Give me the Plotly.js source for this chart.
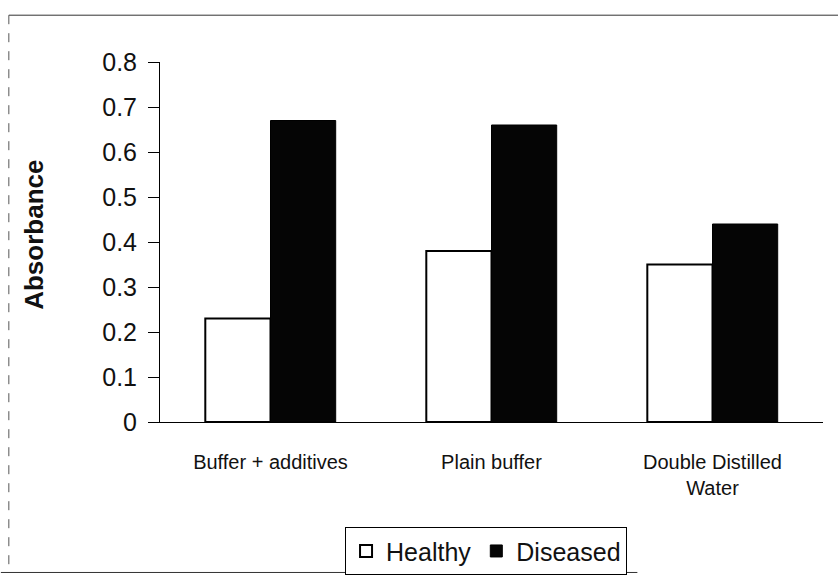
<!DOCTYPE html>
<html>
<head>
<meta charset="utf-8">
<script src="https://cdn.plot.ly/plotly-3.0.1.min.js"></script>
<style>html,body{margin:0;padding:0;background:#fff;}#chart{width:838px;height:579px;}</style>
</head>
<body>
<div id="chart"></div>
<script>
var categories = ["Buffer + additives", "Plain buffer", "Double Distilled<br>Water"];
var healthy = [0.23, 0.38, 0.35];
var diseased = [0.67, 0.66, 0.44];
var yTicks = [0, 0.1, 0.2, 0.3, 0.4, 0.5, 0.6, 0.7, 0.8];
var yTickLabels = ["0", "0.1", "0.2", "0.3", "0.4", "0.5", "0.6", "0.7", "0.8"];

var data = [
  {type: "bar", name: "Healthy", x: categories, y: healthy,
   marker: {color: "#ffffff", line: {color: "#000000", width: 2}}},
  {type: "bar", name: "Diseased", x: categories, y: diseased,
   marker: {color: "#050505", line: {color: "#000000", width: 1}}}
];

var layout = {
  width: 838, height: 579,
  margin: {l: 160, r: 15, t: 62, b: 157, autoexpand: false},
  paper_bgcolor: "#ffffff", plot_bgcolor: "#ffffff",
  font: {family: "Liberation Sans, Arial, sans-serif", color: "#111"},
  barmode: "group", bargap: 0.41, bargroupgap: 0,
  showlegend: true,
  legend: {orientation: "h", xref: "container", yref: "container",
           x: 0.58, xanchor: "center", y: 0.048, yanchor: "middle",
           bordercolor: "#000", borderwidth: 1, font: {size: 25, color: "#111"},
           itemwidth: 30, tracegroupgap: 0},
  xaxis: {showline: true, linecolor: "#000", linewidth: 1, ticks: "", showgrid: false,
          tickfont: {size: 20, color: "#111"}, zeroline: false, ticklabelstandoff: 22},
  yaxis: {range: [0, 0.8], tickvals: yTicks, ticktext: yTickLabels, showline: true,
          linecolor: "#000", linewidth: 1, ticks: "outside", ticklen: 11, tickcolor: "#000",
          showgrid: false, zeroline: false, tickfont: {size: 25, color: "#111"},
          ticklabelstandoff: 6},
  annotations: [{text: "<b>Absorbance</b>", xref: "paper", yref: "paper",
                 x: -0.19, y: 0.52, xanchor: "center", yanchor: "middle",
                 textangle: -90, showarrow: false, font: {size: 26, color: "#111"}}],
  shapes: [
    {type: "line", xref: "paper", yref: "paper", x0: -0.228, x1: 1.03, y0: 1.13, y1: 1.13, line: {color: "#333", width: 1}},
    {type: "line", xref: "paper", yref: "paper", x0: -0.228, x1: -0.228, y0: 1.13, y1: -0.42, line: {color: "#555", width: 1, dash: "dash"}},
    {type: "line", xref: "paper", yref: "paper", x0: -0.24, x1: 0.72, y0: -0.418, y1: -0.418, line: {color: "#333", width: 1}}
  ]
};

Plotly.newPlot("chart", data, layout, {staticPlot: true});
</script>
</body>
</html>
